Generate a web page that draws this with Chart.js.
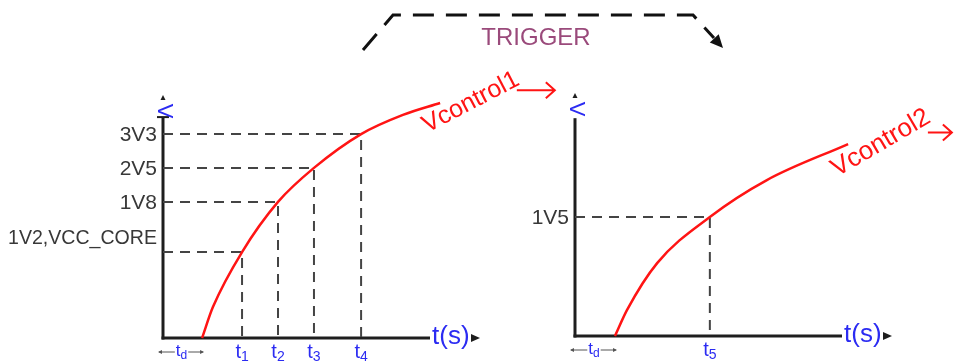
<!DOCTYPE html>
<html>
<head>
<meta charset="utf-8">
<script src="https://cdn.jsdelivr.net/npm/chart.js@4"></script>
<style>
  html, body { margin: 0; padding: 0; background: #fff; }
  #wrap { position: relative; width: 956px; height: 362px; }
  canvas { position: absolute; left: 0; top: 0; }
</style>
</head>
<body>
<div id="wrap">
  <canvas id="c1" width="956" height="362"></canvas>
  <canvas id="c2" width="956" height="362"></canvas>
</div>
<script>
// left panel: Vcontrol1 ramp (schematic units, not real volts/seconds)
const curve1X = [1.26, 1.61, 2.55, 3.71, 4.87, 6.39, 7.74, 8.94];
const curve1Y = [0, 1.40, 3.89, 6.16, 7.70, 9.23, 10.10, 10.64];
const level1Labels = ['1V2,VCC_CORE', '1V8', '2V5', '3V3'];
const level1Values = [3.89, 6.16, 7.70, 9.23];
const time1Labels = ['t1', 't2', 't3', 't4'];
const time1Values = [2.55, 3.71, 4.87, 6.39];
const delay1 = 1.26;

// right panel: Vcontrol2 ramp
const curve2X = [1.29, 1.68, 2.65, 4.35, 6.19, 8.81];
const curve2Y = [0, 1.18, 3.30, 5.39, 7.06, 8.69];
const level2Labels = ['1V5'];
const level2Values = [5.39];
const time2Labels = ['t5'];
const time2Values = [4.35];
const delay2 = 1.29;

const RED = '#ff1414';
const BLUE = '#2b2bf2';
const DARK = '#1e1e1e';
const FONT = '"Liberation Sans", Arial, sans-serif';

function arrowHead(ctx, x, y, ang, len, half) {
    // filled triangle pointing along ang
    ctx.beginPath();
    ctx.moveTo(x, y);
    ctx.lineTo(x - len * Math.cos(ang) + half * Math.sin(ang), y - len * Math.sin(ang) - half * Math.cos(ang));
    ctx.lineTo(x - len * Math.cos(ang) - half * Math.sin(ang), y - len * Math.sin(ang) + half * Math.cos(ang));
    ctx.closePath();
    ctx.fill();
}

function subLabel(ctx, main, sub, cx, baseline, size) {
    // "t" with a subscript, centred on cx
    const subSize = Math.round(size * 0.72);
    ctx.font = size + 'px ' + FONT;
    const w1 = ctx.measureText(main).width;
    ctx.font = subSize + 'px ' + FONT;
    const w2 = ctx.measureText(sub).width;
    const left = cx - (w1 + w2) / 2;
    ctx.textAlign = 'left';
    ctx.textBaseline = 'alphabetic';
    ctx.font = size + 'px ' + FONT;
    ctx.fillText(main, left, baseline);
    ctx.font = subSize + 'px ' + FONT;
    ctx.fillText(sub, left + w1, baseline + 3);
    return { left: left, right: left + w1 + w2 };
}

function diagramPlugin(o) {
    return {
        id: 'diagram',
        beforeDatasetsDraw(chart) {
            const ctx = chart.ctx;
            const xs = chart.scales.x, ys = chart.scales.y;
            const x0 = xs.getPixelForValue(0);
            const yb = ys.getPixelForValue(0);
            const top = chart.chartArea.top;
            const right = chart.chartArea.right;
            ctx.save();
            ctx.strokeStyle = DARK;
            ctx.fillStyle = DARK;
            ctx.lineWidth = 3;
            // y axis
            const axisTop = ys.getPixelForValue(o.axisTop);
            ctx.beginPath();
            ctx.moveTo(x0, yb + 1.5);
            ctx.lineTo(x0, axisTop);
            ctx.stroke();
            if (o.cap) {
                ctx.lineWidth = 2;
                ctx.beginPath();
                ctx.moveTo(x0 - 6, axisTop);
                ctx.lineTo(x0 + 6, axisTop);
                ctx.stroke();
            }
            arrowHead(ctx, x0, top, -Math.PI / 2, 5, 2.5);
            // x axis
            ctx.lineWidth = 3;
            ctx.beginPath();
            ctx.moveTo(x0 - 1.5, yb);
            ctx.lineTo(right - 43, yb);
            ctx.stroke();
            arrowHead(ctx, right + 7, yb, 0, 9, 4);
            ctx.restore();
        },
        afterDatasetsDraw(chart) {
            const ctx = chart.ctx;
            const xs = chart.scales.x, ys = chart.scales.y;
            const x0 = xs.getPixelForValue(0);
            const yb = ys.getPixelForValue(0);
            const top = chart.chartArea.top;
            const right = chart.chartArea.right;
            ctx.save();
            // rotated V on the y axis
            ctx.fillStyle = BLUE;
            ctx.font = '22px ' + FONT;
            ctx.textAlign = 'center';
            ctx.textBaseline = 'middle';
            ctx.translate(x0 + 1, top + 16);
            ctx.rotate(Math.PI / 2);
            ctx.fillText('V', 0, 0);
            ctx.restore();

            ctx.save();
            // t(s)
            ctx.fillStyle = BLUE;
            ctx.font = '26px ' + FONT;
            ctx.textAlign = 'left';
            ctx.textBaseline = 'middle';
            ctx.fillText('t(s)', right - 41, yb - 1);

            // level labels
            ctx.fillStyle = '#383838';
            ctx.font = '21px ' + FONT;
            ctx.textAlign = 'right';
            o.levelLabels.forEach((lab, i) => {
                let y = ys.getPixelForValue(o.levelValues[i]);
                if (o.liftFirst && i === 0) y -= o.liftFirst;
                ctx.fillText(lab, x0 - 6, y + 1, x0 - 14);
            });

            // time tick labels
            ctx.fillStyle = BLUE;
            o.timeLabels.forEach((lab, i) => {
                subLabel(ctx, lab[0], lab.slice(1), xs.getPixelForValue(o.timeValues[i]), yb + 20, 20);
            });

            // delay marker
            const dx = xs.getPixelForValue(o.delay);
            const span = subLabel(ctx, 't', 'd', (x0 + dx) / 2 - 1, yb + 18, 17);
            ctx.strokeStyle = '#555';
            ctx.fillStyle = '#555';
            ctx.lineWidth = 1;
            const ay = yb + 14;
            ctx.beginPath();
            ctx.moveTo(x0 - 4, ay); ctx.lineTo(span.left - 1, ay);
            ctx.moveTo(span.right + 1, ay); ctx.lineTo(dx + 1, ay);
            ctx.stroke();
            arrowHead(ctx, x0 - 5, ay, Math.PI, 4, 2);
            arrowHead(ctx, dx + 2, ay, 0, 4, 2);

            // curve name, rotated along the curve end
            const n = o.curveX.length - 1;
            const ex = xs.getPixelForValue(o.curveX[n]);
            const ey = ys.getPixelForValue(o.curveY[n]);
            ctx.fillStyle = RED;
            ctx.strokeStyle = RED;
            ctx.font = o.nameSize + 'px ' + FONT;
            ctx.textAlign = 'left';
            ctx.textBaseline = 'alphabetic';
            const tx = ex + o.nameDx, ty = ey + o.nameDy;
            const w = ctx.measureText(o.name).width;
            ctx.save();
            ctx.translate(tx, ty);
            ctx.rotate(o.nameAngle);
            ctx.fillText(o.name, 0, 0);
            ctx.restore();
            // red arrow after the name
            const endX = tx + w * Math.cos(o.nameAngle);
            const endY = ty + w * Math.sin(o.nameAngle);
            const sx = endX - 4, sy = endY + o.arrowDy;
            const L = o.arrowLen;
            ctx.lineWidth = 2;
            ctx.beginPath();
            ctx.moveTo(sx, sy); ctx.lineTo(sx + L, sy);
            ctx.moveTo(sx + L - 9, sy - 8); ctx.lineTo(sx + L, sy); ctx.lineTo(sx + L - 9, sy + 8);
            ctx.stroke();

            if (o.trigger) {
                // dashed trigger path between the two panels
                ctx.strokeStyle = '#111';
                ctx.fillStyle = '#111';
                ctx.lineWidth = 3;
                ctx.setLineDash([21, 12]);
                ctx.beginPath();
                ctx.moveTo(363, 50);
                ctx.lineTo(393, 15);
                ctx.lineTo(693, 15);
                ctx.lineTo(714, 38);
                ctx.stroke();
                ctx.setLineDash([]);
                arrowHead(ctx, 723, 48, Math.atan2(33, 30), 13, 6);
                ctx.fillStyle = '#9a4a7b';
                ctx.font = '24px ' + FONT;
                ctx.textAlign = 'center';
                ctx.textBaseline = 'middle';
                ctx.fillText('TRIGGER', 536, 38);
            }
            ctx.restore();
        }
    };
}

function guideSets(levels, times) {
    // dashed guide from the y axis to the curve, then down to the x axis
    return levels.map((lv, i) => ({
        data: [{ x: 0, y: lv }, { x: times[i], y: lv }, { x: times[i], y: 0 }],
        borderColor: '#444',
        borderWidth: 2,
        borderDash: [10, 7],
        pointRadius: 0,
        tension: 0,
        order: 2
    }));
}

function buildPanel(id, o) {
    const curve = o.curveX.map((x, i) => ({ x: x, y: o.curveY[i] }));
    return new Chart(document.getElementById(id), {
        type: 'line',
        data: {
            datasets: [{
                data: curve,
                borderColor: RED,
                borderWidth: 2.5,
                pointRadius: 0,
                cubicInterpolationMode: 'monotone',
                order: 1
            }].concat(guideSets(o.levelValues, o.timeValues))
        },
        options: {
            responsive: false,
            animation: false,
            events: [],
            clip: false,
            layout: { padding: o.padding },
            scales: {
                x: { type: 'linear', min: 0, max: 10, display: false },
                y: { type: 'linear', min: 0, max: 11, display: false }
            },
            plugins: { legend: { display: false }, tooltip: { enabled: false } }
        },
        plugins: [diagramPlugin(o)]
    });
}

buildPanel('c1', {
    curveX: curve1X, curveY: curve1Y,
    levelLabels: level1Labels, levelValues: level1Values,
    timeLabels: time1Labels, timeValues: time1Values,
    delay: delay1, axisTop: 10, cap: true, liftFirst: 15,
    name: 'Vcontrol1', nameSize: 25, nameDx: -13, nameDy: 30, nameAngle: -0.48,
    arrowDy: 6, arrowLen: 38,
    padding: { left: 163, right: 483, top: 95, bottom: 24 }
});

buildPanel('c2', {
    curveX: curve2X, curveY: curve2Y,
    levelLabels: level2Labels, levelValues: level2Values,
    timeLabels: time2Labels, timeValues: time2Values,
    delay: delay2, axisTop: 9.86, cap: false,
    name: 'Vcontrol2', nameSize: 26, nameDx: -11, nameDy: 33, nameAngle: -0.53,
    arrowDy: 11, arrowLen: 24,
    trigger: true,
    padding: { left: 575, right: 71, top: 93, bottom: 26 }
});
</script>
</body>
</html>
